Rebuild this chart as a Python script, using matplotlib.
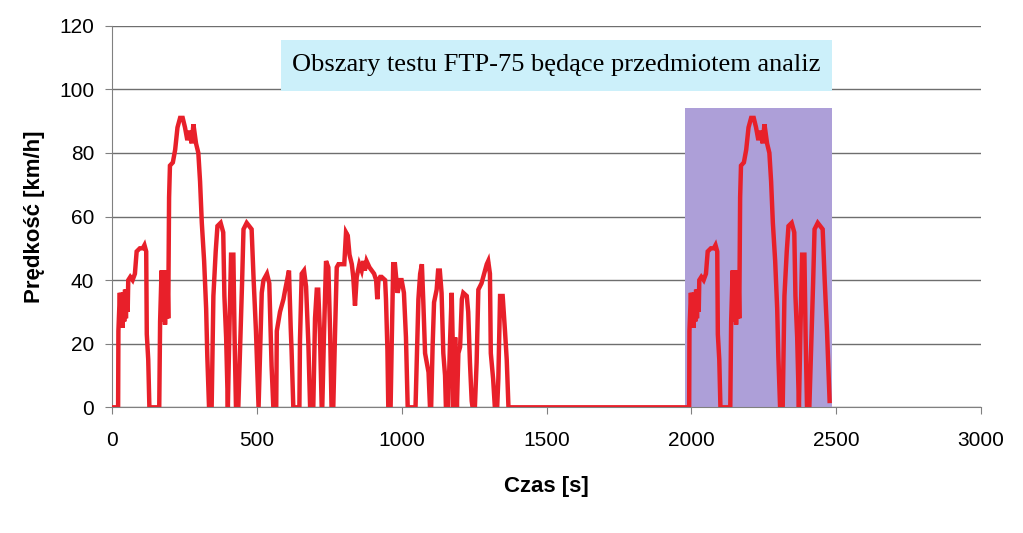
import matplotlib.pyplot as plt
from matplotlib.patches import Rectangle

# faza zimna (0-505 s) + faza ustabilizowana (505-1372 s)
czas = [0, 20, 21, 26, 29, 32, 35, 38, 41, 44, 47, 50, 53, 55, 62, 70, 78, 84, 95, 105,
        111, 117, 119, 124, 128,
        162, 165, 170, 172, 175, 177, 180, 182, 185, 187, 190, 193, 196, 199, 209, 217,
        225, 234, 243, 251, 259, 266, 274, 280, 289, 297, 303, 309, 317, 324, 328,
        334, 343,
        349, 357, 363, 374, 383, 387, 393, 399, 404, 410, 418, 422, 427, 435,
        448, 453, 464, 481, 488, 496, 505,
        516, 522, 534, 542, 547, 550, 556, 566, 568, 579, 591, 597, 610, 616, 619, 625,
        646, 648, 654, 662, 669, 677, 683, 694, 700, 706, 711, 717, 723,
        725, 731, 738, 746, 752, 757, 763, 769, 775, 781, 792, 801, 807, 813, 819,
        827, 832, 838, 844, 853, 861, 867, 872, 878, 888, 896, 904, 911, 915, 919,
        925, 930, 942, 945, 950, 953, 961, 965, 970, 976, 980, 985, 994, 999, 1007,
        1014, 1020, 1047, 1049, 1057, 1063, 1069, 1074, 1080, 1092, 1097,
        1101, 1106, 1111, 1120, 1125, 1131, 1137, 1143, 1149, 1152,
        1160, 1166, 1172, 1176, 1178, 1184, 1190, 1195, 1201, 1207, 1212, 1224,
        1229, 1235, 1241, 1244,
        1252, 1258, 1264, 1275, 1284, 1293, 1298, 1304, 1307, 1315, 1321,
        1329, 1333, 1339, 1348, 1356, 1362, 1368, 1976]
predkosc = [0, 0, 24, 36, 27, 36, 25, 36, 27, 37, 28, 37, 30, 40, 41, 40, 42, 49, 50, 50,
            51, 49, 23, 15, 0,
            0, 27, 43, 27, 43, 28, 43, 26, 43, 28, 43, 28, 66, 76, 77, 81,
            88, 91, 91, 88, 84, 87, 83, 89, 83, 80, 71, 58, 46, 31, 16,
            0, 0,
            35, 49, 57, 58, 55, 35, 22, 0, 23, 48, 48, 23, 0, 0,
            39, 56, 58, 56, 40, 24, 0,
            36, 40, 42, 39, 23, 13, 0, 0, 24, 30, 34, 37, 43, 25, 18, 0,
            0, 21, 42, 43, 38, 20, 0, 0, 28, 37, 37, 23, 0,
            0, 23, 46, 44, 24, 0, 0, 23, 44, 45, 45, 45, 55, 54, 48,
            45, 41, 32, 41, 45, 43, 46, 43, 46, 44, 43, 42, 40, 34, 40,
            41, 41, 40, 34, 18, 0, 0, 21, 45, 45, 41, 36, 40, 40, 36,
            22, 0, 0, 7, 34, 42, 45, 33, 17, 11, 0,
            0, 19, 33, 37, 43, 43, 36, 17, 10, 0,
            0, 20, 36, 18, 0, 22, 0, 17, 19, 34, 36, 35,
            30, 14, 2, 0,
            0, 14, 37, 39, 42, 45, 46, 42, 17, 9, 0,
            0, 9, 35, 35, 24, 15, 0, 0]

# faza gorąca (po 600 s postoju)
czas_gorace = [1972, 1992, 1993, 1998, 2001, 2004, 2007, 2010, 2013, 2016, 2019, 2022,
               2025, 2027, 2034, 2042, 2050, 2056, 2067, 2077, 2083, 2089, 2091, 2096,
               2100,
               2134, 2137, 2142, 2144, 2147, 2149, 2152, 2154, 2157, 2159, 2162, 2165,
               2168, 2171, 2181, 2189, 2197, 2206, 2215, 2223, 2231, 2238, 2246, 2252,
               2261, 2269, 2275, 2281, 2289, 2296, 2300, 2306, 2315,
               2321, 2329, 2335, 2346, 2355, 2359, 2365, 2371, 2376, 2382, 2390, 2394,
               2399, 2407, 2420, 2425, 2436, 2453, 2460, 2468, 2477]
predkosc_gorace = [0, 0, 24, 36, 27, 36, 25, 36, 27, 37, 28, 37,
                   30, 40, 41, 40, 42, 49, 50, 50, 51, 49, 23, 15,
                   0,
                   0, 27, 43, 27, 43, 28, 43, 26, 43, 28, 43, 28,
                   66, 76, 77, 81, 88, 91, 91, 88, 84, 87, 83, 89,
                   83, 80, 71, 58, 46, 31, 16, 0, 0,
                   35, 49, 57, 58, 55, 35, 22, 0, 23, 48, 48, 23,
                   0, 0, 39, 56, 58, 56, 40, 24, 2]

fig = plt.figure(figsize=(10.23, 5.33), dpi=100)
ax = fig.add_axes([0.1098, 0.2358, 0.8492, 0.716])

# obszar analizy
ax.add_patch(Rectangle((1976, 0), 509, 94, facecolor="#ad9fd8", edgecolor="none", zorder=1))

ax.plot(czas + czas_gorace, predkosc + predkosc_gorace, color="#e8202a", lw=3.2,
        solid_joinstyle="miter", zorder=3)

ax.set_xlim(0, 3000)
ax.set_ylim(0, 120)
ax.set_xticks(range(0, 3001, 500))
ax.set_yticks(range(0, 121, 20))
ax.grid(axis="y", color="#6e6e6e", lw=1, zorder=0)
ax.set_axisbelow(True)
for s in ["top", "right"]:
    ax.spines[s].set_visible(False)
for s in ["left", "bottom"]:
    ax.spines[s].set_color("#808080")
ax.tick_params(colors="#808080", labelcolor="black", labelsize=15, length=5)
ax.tick_params(axis="x", pad=12)
ax.tick_params(axis="y", pad=8)
for lab in ax.get_xticklabels() + ax.get_yticklabels():
    lab.set_family("Liberation Sans")

ax.set_xlabel("Czas [s]", fontsize=16, fontweight="bold", family="Liberation Sans",
              labelpad=19)
ax.set_ylabel("Prędkość [km/h]", fontsize=16, fontweight="bold",
              family="Liberation Sans", labelpad=10)

# ramka z opisem
ax.add_patch(Rectangle((583, 99.5), 1902, 16, facecolor="#ccf0fa", edgecolor="none",
                       zorder=4, clip_on=False))
ax.text(1534, 107.5, "Obszary testu FTP-75 będące przedmiotem analiz",
        family="Liberation Serif", fontsize=19, ha="center", va="center", zorder=5)

fig.savefig("out.png")
